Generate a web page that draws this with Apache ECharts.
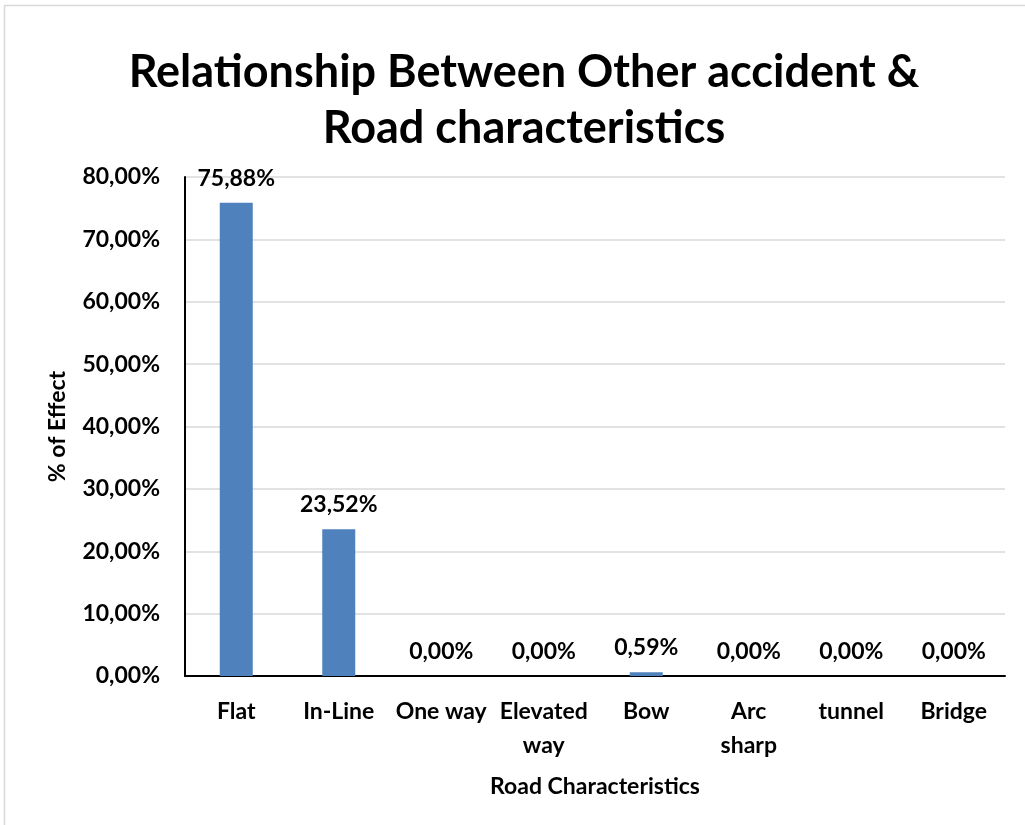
<!DOCTYPE html>
<html>
<head>
<meta charset="utf-8">
<style>
  html, body { margin: 0; padding: 0; background: #fff; }
  #chart { width: 1025px; height: 825px; }
</style>
<script src="https://cdn.jsdelivr.net/npm/echarts@6/dist/echarts.min.js"></script>
</head>
<body>
<div id="chart"></div>
<script>
// Road characteristics and share of "other" accidents (%)
const categories = ['Flat', 'In-Line', 'One way', 'Elevated\nway', 'Bow', 'Arc\nsharp', 'tunnel', 'Bridge'];
const effectPct = [75.88, 23.52, 0.00, 0.00, 0.59, 0.00, 0.00, 0.00];

const FONT = 'Lato';
const fmt = v => v.toFixed(2).replace('.', ',') + '%';

const chart = echarts.init(document.getElementById('chart'), null, { renderer: 'canvas' });
chart.setOption({
  backgroundColor: '#ffffff',
  animation: false,
  graphic: [{
    type: 'rect',
    shape: { x: 4.5, y: 5.5, width: 1040, height: 830 },
    style: { fill: 'none', stroke: '#d9d9d9', lineWidth: 1.5 },
    silent: true
  }, {
    type: 'text',
    x: 524,
    y: 44,
    silent: true,
    style: {
      text: 'Relationship Between Other accident &\nRoad characteristics',
      align: 'center',
      verticalAlign: 'top',
      fontFamily: FONT, fontWeight: 'bold', fontSize: 45, lineHeight: 56, fill: '#000'
    }
  }],
  grid: { left: 185, right: 20, top: 177, bottom: 149, containLabel: false },
  xAxis: {
    type: 'category',
    data: categories,
    name: 'Road Characteristics',
    nameLocation: 'middle',
    nameGap: 99,
    nameTextStyle: { fontFamily: FONT, fontWeight: 'bold', fontSize: 23, color: '#000' },
    axisLine: { lineStyle: { color: '#000', width: 2 } },
    axisTick: { show: false },
    axisLabel: {
      interval: 0, margin: 19, color: '#000',
      fontFamily: FONT, fontWeight: 'bold', fontSize: 23, lineHeight: 34
    }
  },
  yAxis: {
    type: 'value',
    min: 0, max: 80, interval: 10,
    name: '% of Effect',
    nameLocation: 'middle',
    nameGap: 116,
    nameTextStyle: { fontFamily: FONT, fontWeight: 'bold', fontSize: 23, color: '#000' },
    axisLine: { show: true, lineStyle: { color: '#000', width: 2 } },
    axisTick: { show: false },
    splitLine: { lineStyle: { color: '#d9d9d9', width: 1.5 } },
    axisLabel: {
      margin: 25, color: '#000',
      fontFamily: FONT, fontWeight: 'bold', fontSize: 23,
      formatter: v => fmt(v)
    }
  },
  series: [{
    type: 'bar',
    data: effectPct,
    barWidth: 33,
    itemStyle: { color: '#4f81bd' },
    label: {
      show: true, position: 'top', distance: 13, color: '#000',
      fontFamily: FONT, fontWeight: 'bold', fontSize: 23,
      formatter: p => fmt(p.value)
    }
  }]
});
</script>
</body>
</html>
